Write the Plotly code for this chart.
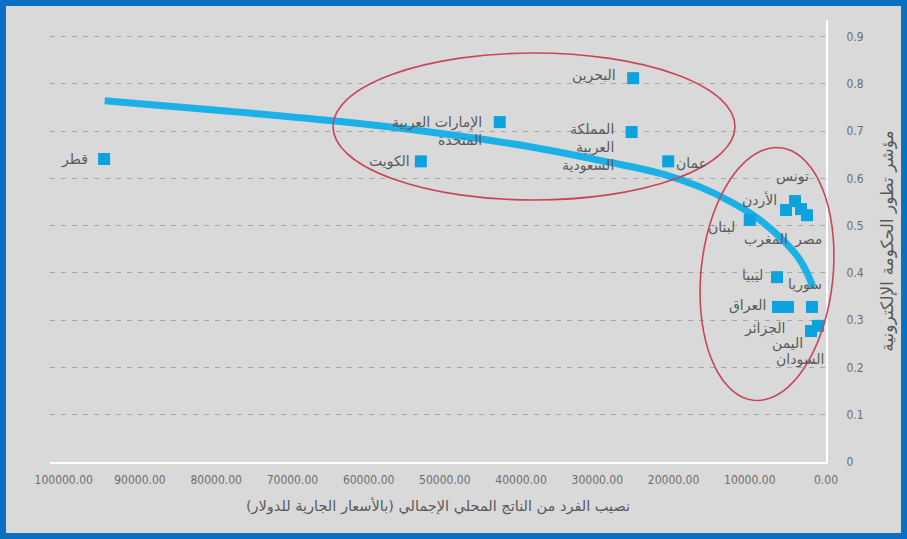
import math
import plotly.graph_objects as go

# ---------------- data ----------------
countries = ["قطر", "البحرين", "الإمارات العربية<br>المتحدة", "الكويت",
             "المملكة<br>العربية<br>السعودية", "عمان", "تونس", "الأردن",
             "المغرب", "مصر", "لبنان", "ليبيا", "العراق", "الجزائر",
             "سوريا", "اليمن", "السودان"]
gdp_per_capita = [94700, 25300, 42800, 53150, 25500, 20700, 4070, 5250,
                  3280, 2490, 10000, 6430, 6300, 4990, 1840, 1970, 1050]
egov_index = [0.641, 0.812, 0.719, 0.636, 0.698, 0.636, 0.552, 0.533,
              0.535, 0.522, 0.512, 0.391, 0.328, 0.328, 0.328, 0.277, 0.288]

trend_gdp = [94620, 79130, 62470, 51970, 38850, 29660, 21390, 16540,
             12200, 8660, 5640, 3410, 1710]
trend_egov = [0.764, 0.743, 0.718, 0.698, 0.667, 0.638, 0.609, 0.582,
              0.548, 0.512, 0.469, 0.427, 0.370]

x_tick_vals = [100000, 90000, 80000, 70000, 60000, 50000, 40000, 30000,
               20000, 10000, 0]
y_tick_vals = [0, 0.1, 0.2, 0.3, 0.4, 0.5, 0.6, 0.7, 0.8, 0.9]

x_title = "نصيب الفرد من الناتج المحلي الإجمالي (بالأسعار الجارية للدولار)"
y_title = "مؤشر تطور الحكومة الإلكترونية"

# label placement styles (anchor, x offset px, y offset px)
label_styles = [("right", -14, -1), ("right", -15, 3), ("right", -16, -9),
                ("right", -9, 0), ("right", -16, -15), ("left", 6, -2),
                ("center", -2, 25), ("center", -26, 10), ("center", -35, -30),
                ("center", 1, -24), ("right", -13, -7), ("right", -12, 2),
                ("right", -10, 1), ("center", -23, -22), ("center", -7, 22),
                ("center", -23, -12), ("center", -18, -34)]

# ---------------- geometry helpers ----------------
W, H = 907, 539
L, R, T, B = 50, 81, 20, 77
PW, PH = W - L - R, H - T - B


def px_to_paper(px, py):
    return (px - L) / PW, (H - B - py) / PH


BG = "#d9d9d9"
BLUE = "#0aa3e0"
LINE_BLUE = "#1bb0e6"
RED = "#c8465a"
TXT = "#595959"
TICK = "#6e6e6e"
TICK_FONT = "Liberation Sans Narrow, DejaVu Sans Condensed, Liberation Sans"

fig = go.Figure()

fig.add_trace(go.Scatter(
    x=trend_gdp, y=trend_egov, mode="lines",
    line=dict(color=LINE_BLUE, width=7, shape="spline", smoothing=1.3),
    hoverinfo="skip", showlegend=False))

fig.add_trace(go.Scatter(
    x=gdp_per_capita, y=egov_index, mode="markers",
    marker=dict(symbol="square", size=12, color=BLUE, line=dict(width=0)),
    text=countries, showlegend=False))

for name, gx, gy, (anc, dx, dy) in zip(countries, gdp_per_capita, egov_index, label_styles):
    fig.add_annotation(x=gx, y=gy, text=name, showarrow=False,
                       xanchor=anc, yanchor="middle", xshift=dx, yshift=dy,
                       align="right", font=dict(family="DejaVu Sans", size=14, color=TXT))

# ellipses (hand-drawn highlights)
x0, y0 = px_to_paper(333, 200)
x1, y1 = px_to_paper(735, 53)
fig.add_shape(type="circle", xref="paper", yref="paper", x0=x0, y0=y0, x1=x1, y1=y1,
              line=dict(color=RED, width=1.6))

cx, cy, rx, ry, ang = 767, 274, 66, 127, math.radians(6)
pts = []
for i in range(73):
    t = 2 * math.pi * i / 72
    ex, ey = rx * math.cos(t), ry * math.sin(t)
    px = cx + ex * math.cos(ang) + ey * math.sin(ang)
    py = cy - (-ex * math.sin(ang) + ey * math.cos(ang))
    pts.append(px_to_paper(px, py))
path = "M " + " L ".join(f"{a:.5f},{b:.5f}" for a, b in pts) + " Z"
fig.add_shape(type="path", xref="paper", yref="paper", path=path,
              line=dict(color=RED, width=1.6))

# outer blue frame
fx0, fy0 = px_to_paper(3, 536)
fx1, fy1 = px_to_paper(904, 3)
fig.add_shape(type="rect", xref="paper", yref="paper", x0=fx0, y0=fy0, x1=fx1, y1=fy1,
              line=dict(color="#0b6fc4", width=6))

fig.update_layout(
    width=W, height=H,
    margin=dict(l=L, r=R, t=T, b=B, autoexpand=False),
    paper_bgcolor=BG, plot_bgcolor=BG,
    showlegend=False,
    xaxis=dict(range=[101800, 0], tickvals=x_tick_vals, tickformat=".2f",
               showgrid=False, zeroline=False, showline=True, linecolor="white",
               linewidth=2, ticks="", ticklabelstandoff=6,
               tickfont=dict(family=TICK_FONT, size=12, color=TICK),
               title=dict(text=x_title, standoff=14,
                          font=dict(family="DejaVu Sans", size=14.5, color=TXT))),
    yaxis=dict(range=[0, 0.935], side="right", tickvals=y_tick_vals,
               showgrid=True, gridcolor="#a8a8a8", griddash="5px,6px", gridwidth=1,
               zeroline=False, showline=True, linecolor="white", linewidth=2,
               ticks="", ticklabelstandoff=16,
               tickfont=dict(family=TICK_FONT, size=12, color=TICK),
               title=dict(text=y_title, standoff=18,
                          font=dict(family="DejaVu Sans", size=17, color=TXT))),
)

fig.write_html("out.html", config={"displayModeBar": False},
               post_script="document.body.style.margin='0px';document.body.style.overflow='hidden';")
